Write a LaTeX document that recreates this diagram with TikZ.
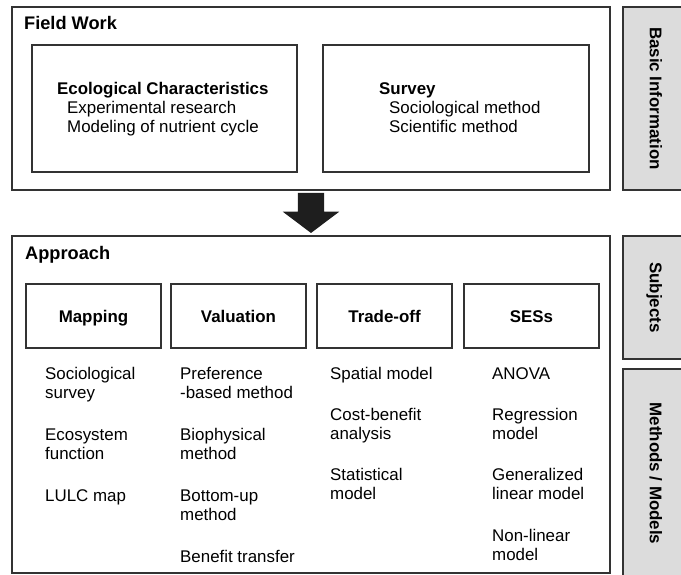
\documentclass[tikz,border=0pt]{standalone}
\usepackage{fontspec}
\setmainfont{Liberation Sans}
\usetikzlibrary{shapes.arrows}

\definecolor{boxline}{HTML}{333333}
\definecolor{sidegray}{HTML}{DCDCDC}
\definecolor{arrowfill}{HTML}{1E1E1E}

\newcommand{\basesize}{\fontsize{16.9pt}{19.3pt}\selectfont}

\tikzset{
  frame/.style={draw=boxline, line width=1.2pt, inner sep=0pt, outer sep=0pt},
  subject/.style={frame, minimum width=135pt, minimum height=64pt,
    font=\basesize\bfseries, text height=12.4pt, text depth=0pt},
  side/.style={frame, fill=sidegray, rotate=-90, minimum height=66pt,
    font=\basesize\bfseries, text height=12.2pt, text depth=0pt},
  item/.style={anchor=base west, inner sep=0pt, font=\basesize},
  itemhead/.style={item, font=\basesize\bfseries},
  heading/.style={item, font=\fontsize{18.2pt}{21pt}\selectfont\bfseries},
}

\begin{document}
\begin{tikzpicture}[x=1pt, y=-1pt]
  \useasboundingbox (0,0) rectangle (681,575);

  % side bars, cut at the page edge
  \begin{scope}
    \clip (0,0) rectangle (681,575);
    \node[side, minimum width=183pt] (basic) at (656,98.5) {Basic Information};
    \node[side, minimum width=123pt] (subjects) at (656,297.5) {Subjects};
    \node[side, minimum width=209pt] (methods) at (656,473.5) {Methods / Models};
  \end{scope}

  % Field work
  \node[frame, minimum width=598pt, minimum height=183pt] (fieldwork) at (311,98.5) {};
  \node[heading] (fieldtitle) at (24,30) {Field Work};

  \node[frame, minimum width=265pt, minimum height=127pt] (ecobox) at (164.5,108.5) {};
  \node[itemhead] (ecotitle) at (57,95) {Ecological Characteristics};
  \node[item] (ecoexp) at (67,114) {Experimental research};
  \node[item] (ecomod) at (67,133) {Modeling of nutrient cycle};

  \node[frame, minimum width=266pt, minimum height=127pt] (survbox) at (456,108.5) {};
  \node[itemhead] (survtitle) at (379,95) {Survey};
  \node[item] (survsoc) at (389,114) {Sociological method};
  \node[item] (survsci) at (389,133) {Scientific method};

  % big arrow down to the approach block
  \node[single arrow, rotate=-90, fill=arrowfill, inner xsep=0pt, inner ysep=13pt,
        minimum height=40pt, minimum width=56pt,
        single arrow head extend=15pt, single arrow tip angle=106] (flow) at (311,208) {};

  % Approach
  \node[frame, minimum width=598pt, minimum height=337pt] (approach) at (311,404.5) {};
  \node[heading] (approachtitle) at (25,259) {Approach};

  \node[subject] (mapping) at (93.5,316) {Mapping};
  \node[subject] (valuation) at (238.5,316) {Valuation};
  \node[subject] (tradeoff) at (384.5,316) {Trade-off};
  \node[subject] (seses) at (531.5,316) {SESs};

  % Mapping column
  \node[item] (mapa) at (45,379) {Sociological};
  \node[item] (mapb) at (45,398) {survey};
  \node[item] (mapc) at (45,440) {Ecosystem};
  \node[item] (mapd) at (45,459) {function};
  \node[item] (mape) at (45,501) {LULC map};

  % Valuation column
  \node[item] (vala) at (180,379) {Preference};
  \node[item] (valb) at (180,398) {-based method};
  \node[item] (valc) at (180,440) {Biophysical};
  \node[item] (vald) at (180,459) {method};
  \node[item] (vale) at (180,501) {Bottom-up};
  \node[item] (valf) at (180,520) {method};
  \node[item] (valg) at (180,562) {Benefit transfer};

  % Trade-off column
  \node[item] (trda) at (330,379) {Spatial model};
  \node[item] (trdb) at (330,420) {Cost-benefit};
  \node[item] (trdc) at (330,439) {analysis};
  \node[item] (trdd) at (330,480) {Statistical};
  \node[item] (trde) at (330,499) {model};

  % SESs column
  \node[item] (sesa) at (492,379) {ANOVA};
  \node[item] (sesb) at (492,420) {Regression};
  \node[item] (sesc) at (492,439) {model};
  \node[item] (sesd) at (492,480) {Generalized};
  \node[item] (sese) at (492,499) {linear model};
  \node[item] (sesf) at (492,541) {Non-linear};
  \node[item] (sesg) at (492,560) {model};
\end{tikzpicture}
\end{document}
